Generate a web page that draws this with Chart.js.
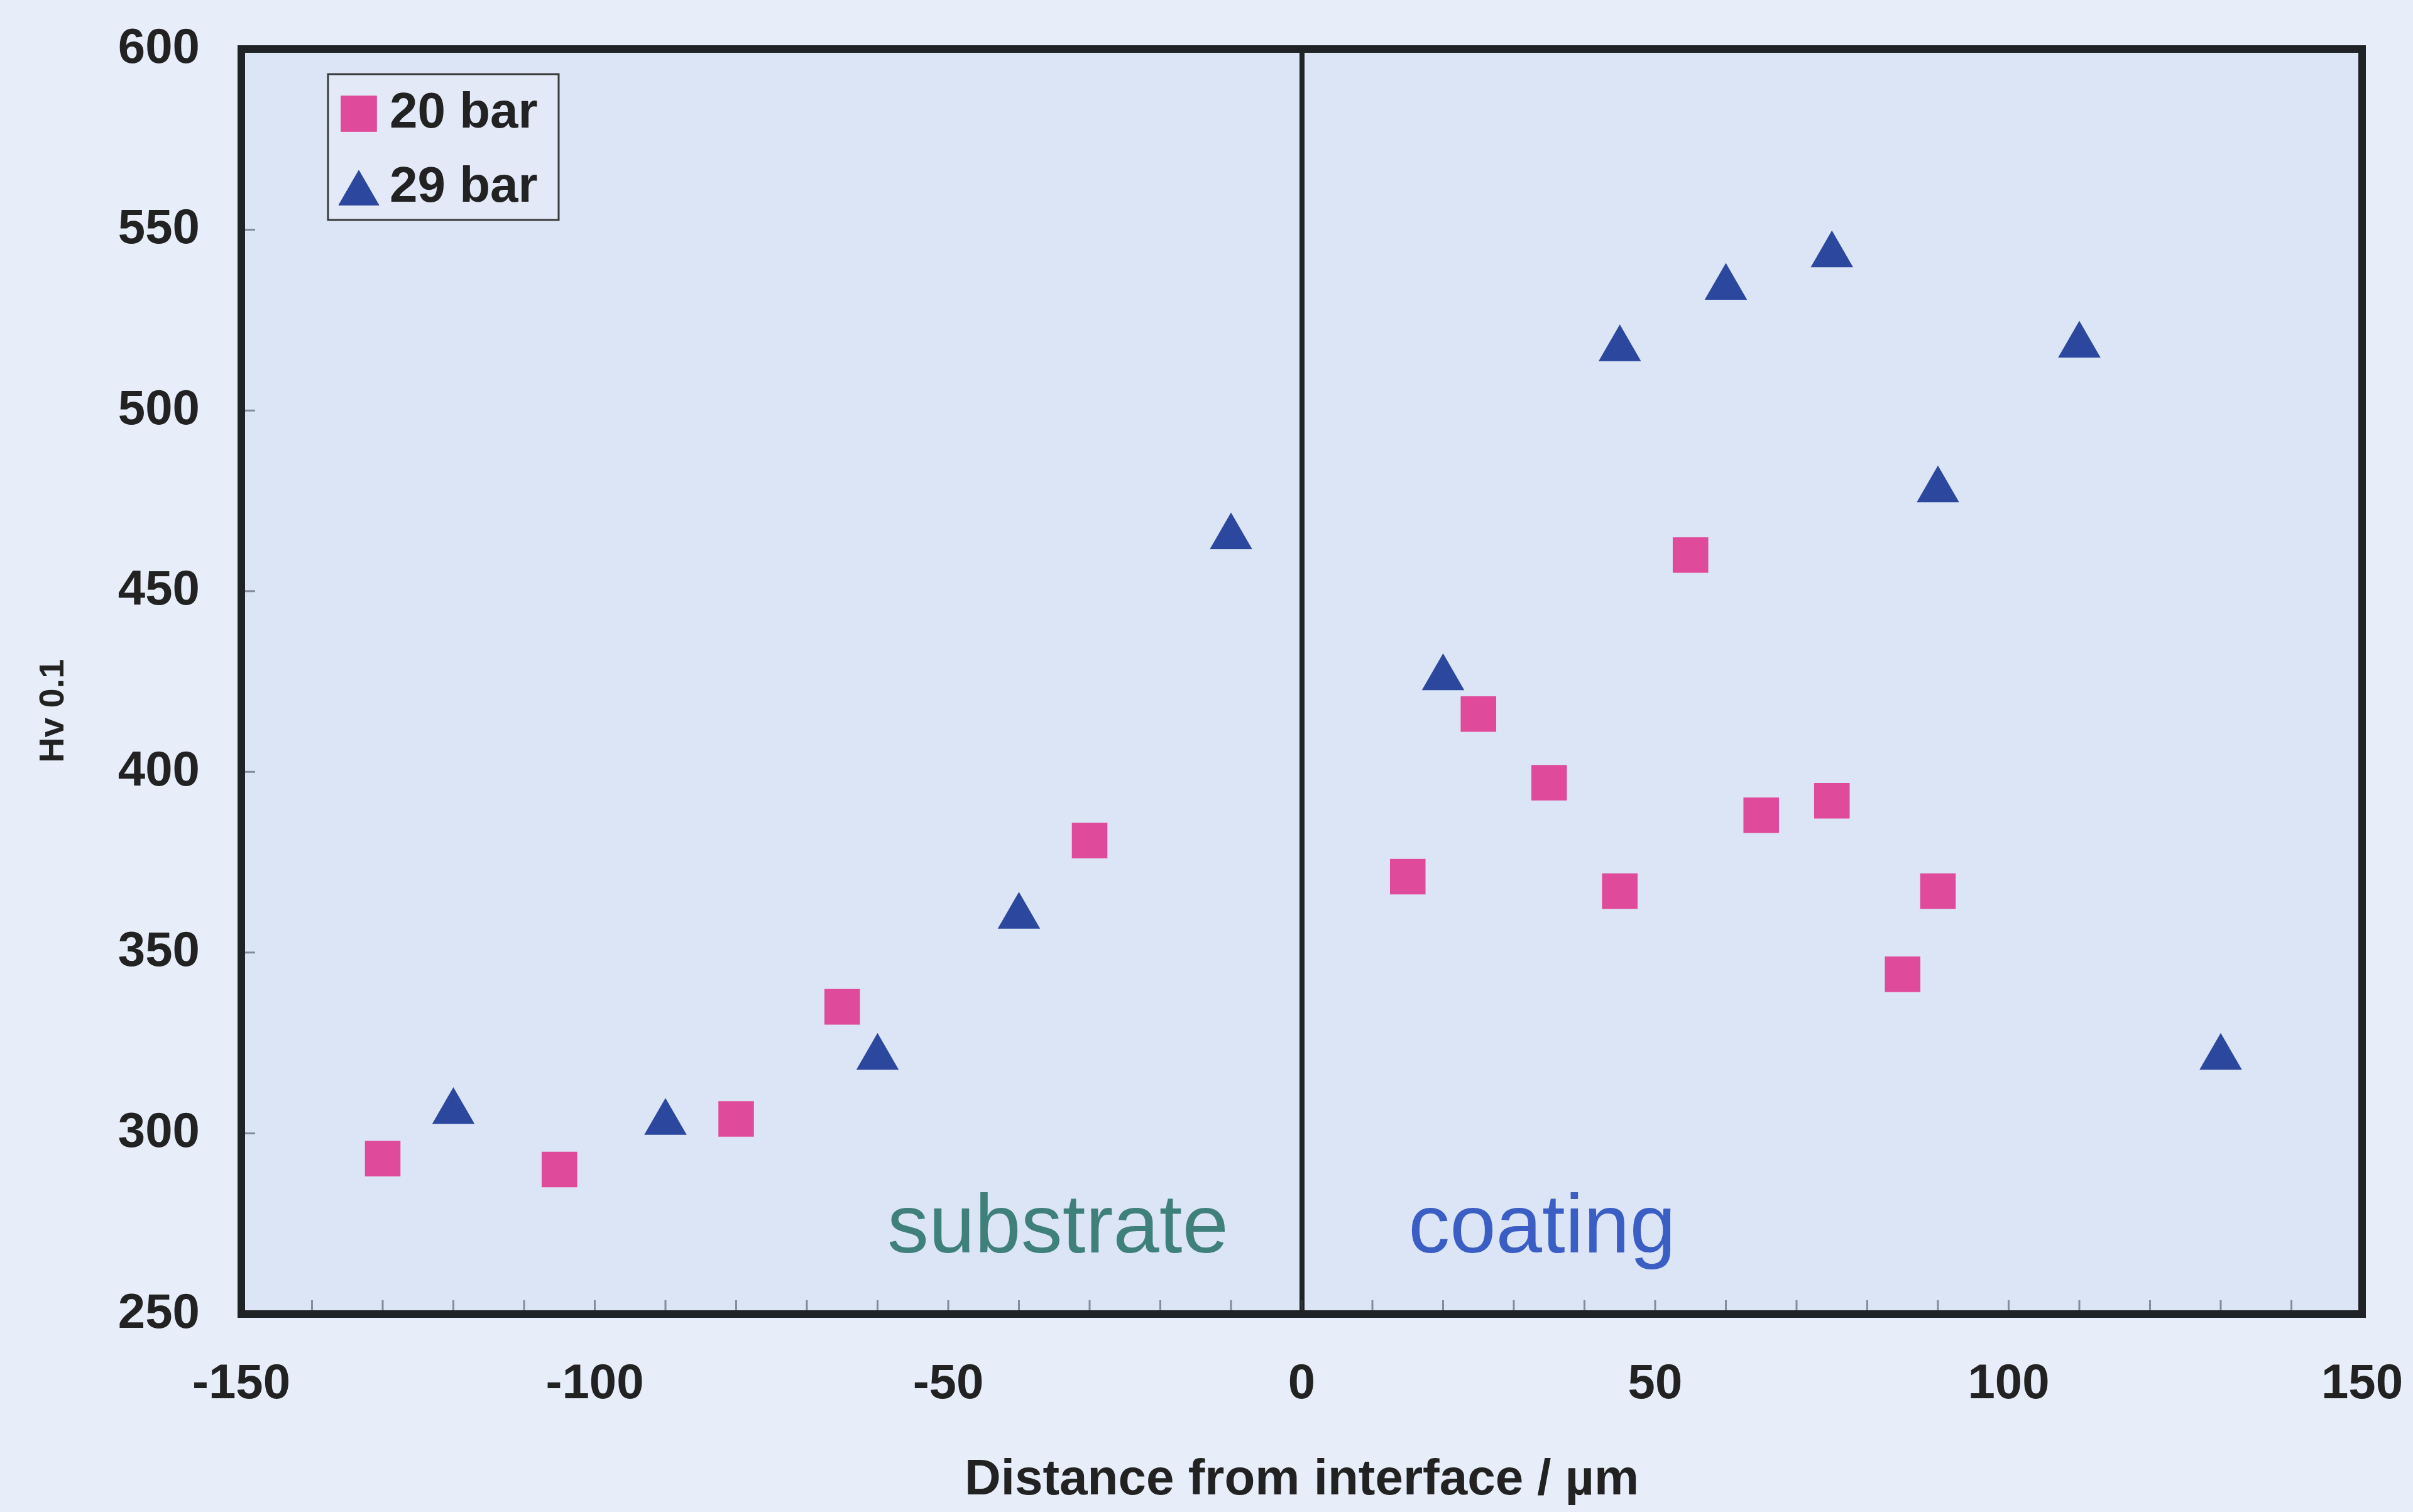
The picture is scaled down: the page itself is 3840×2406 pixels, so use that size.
<!DOCTYPE html>
<html>
<head>
<meta charset="utf-8">
<script src="https://cdn.jsdelivr.net/npm/chart.js@4.4.0/dist/chart.umd.min.js"></script>
<style>
  html, body { margin: 0; padding: 0; background: #e8eef9; overflow: hidden; }
  #wrap { width: 3840px; height: 2406px; position: relative; }
</style>
</head>
<body>
<div id="wrap"><canvas id="hardness-chart"></canvas></div>
<script>
// Microhardness across the substrate / coating interface
const seriesNames = ['20 bar', '29 bar'];

const dist20 = [-130, -105, -80, -65, -30, 15, 25, 35, 45, 55, 65, 75, 85, 90];
const hv20   = [293, 290, 304, 335, 381, 371, 416, 397, 367, 460, 388, 392, 344, 367];

const dist29 = [-120, -90, -60, -40, -10, 20, 45, 60, 75, 90, 110, 130];
const hv29   = [306, 303, 321, 360, 465, 426, 517, 534, 543, 478, 518, 321];

const xTicks = [-150, -100, -50, 0, 50, 100, 150];
const yTicks = [250, 300, 350, 400, 450, 500, 550, 600];

const regionLabels = ['substrate', 'coating'];

const FONT = '"Liberation Sans", Arial, Helvetica, sans-serif';
const PINK = '#e04a9b';
const BLUE = '#2b479e';
const INK = '#1f2326';

function toPoints(xs, ys) {
  return xs.map((x, i) => ({ x: x, y: ys[i] }));
}

// stop the tick labels from pushing the plot area inwards
function noScalePadding(scale) {
  scale.paddingTop = 0;
  scale.paddingBottom = 0;
  scale.paddingLeft = 0;
  scale.paddingRight = 0;
}

// plot area fill, region labels, inside tick marks, frame and the in-plot legend
const decorations = {
  id: 'decorations',
  beforeDraw(chart) {
    const { ctx, chartArea: a } = chart;
    ctx.save();
    ctx.fillStyle = '#dce5f5';
    ctx.fillRect(a.left, a.top, a.right - a.left, a.bottom - a.top);
    ctx.restore();
  },
  beforeDatasetsDraw(chart) {
    const { ctx, chartArea: a, scales: { x, y } } = chart;
    ctx.save();
    ctx.font = '132px ' + FONT;
    ctx.textAlign = 'center';
    ctx.textBaseline = 'alphabetic';
    const baseY = y.getPixelForValue(267);
    ctx.fillStyle = '#3f807b';
    ctx.fillText(regionLabels[0], x.getPixelForValue(-34.5), baseY);
    ctx.fillStyle = '#3a5ec4';
    ctx.fillText(regionLabels[1], x.getPixelForValue(34), baseY);

    // faint inward tick marks: every 10 on x, every 50 on y
    ctx.strokeStyle = 'rgba(60, 66, 76, 0.55)';
    ctx.lineWidth = 3;
    ctx.beginPath();
    for (let v = x.min + 10; v < x.max; v += 10) {
      const px = x.getPixelForValue(v);
      ctx.moveTo(px, a.bottom);
      ctx.lineTo(px, a.bottom - 22);
    }
    yTicks.forEach(v => {
      if (v === y.min || v === y.max) return;
      const py = y.getPixelForValue(v);
      ctx.moveTo(a.left, py);
      ctx.lineTo(a.left + 22, py);
    });
    ctx.stroke();
    ctx.restore();
  },
  afterDraw(chart) {
    const { ctx, chartArea: a } = chart;
    ctx.save();
    // frame
    ctx.strokeStyle = INK;
    ctx.lineWidth = 12;
    ctx.strokeRect(a.left, a.top, a.right - a.left, a.bottom - a.top);

    // legend box
    const bx = a.left + 138, by = a.top + 40, bw = 367, bh = 232;
    ctx.fillStyle = '#e3e9f7';
    ctx.fillRect(bx, by, bw, bh);
    ctx.strokeStyle = '#3a3a3a';
    ctx.lineWidth = 3;
    ctx.strokeRect(bx, by, bw, bh);

    const rows = [
      { style: 'rect', color: PINK, r: 40, cy: by + 63, ty: by + 63 },
      { style: 'triangle', color: BLUE, r: 37, cy: by + 190, ty: by + 181 }
    ];
    rows.forEach((row, i) => {
      ctx.fillStyle = row.color;
      ctx.strokeStyle = row.color;
      ctx.lineWidth = 1;
      Chart.helpers.drawPoint(ctx, { pointStyle: row.style, radius: row.r, rotation: 0, borderWidth: 1 }, bx + 49, row.cy);
      ctx.fillStyle = '#222222';
      ctx.font = 'bold 80px ' + FONT;
      ctx.textAlign = 'left';
      ctx.textBaseline = 'middle';
      ctx.fillText(seriesNames[i], bx + 98, row.ty);
    });
    ctx.restore();
  }
};

const config = {
  type: 'scatter',
  data: {
    datasets: [
      {
        label: seriesNames[0],
        data: toPoints(dist20, hv20),
        pointStyle: 'rect',
        pointRadius: 40,
        pointHoverRadius: 40,
        backgroundColor: PINK,
        borderColor: PINK,
        borderWidth: 0
      },
      {
        label: seriesNames[1],
        data: toPoints(dist29, hv29),
        pointStyle: 'triangle',
        pointRadius: 39,
        pointHoverRadius: 39,
        backgroundColor: BLUE,
        borderColor: BLUE,
        borderWidth: 0
      }
    ]
  },
  options: {
    responsive: true,
    maintainAspectRatio: false,
    animation: false,
    events: [],
    layout: { padding: { top: 78, right: 81, left: 0, bottom: 0 } },
    plugins: {
      legend: { display: false },
      tooltip: { enabled: false },
      title: { display: false }
    },
    scales: {
      x: {
        type: 'linear',
        min: -150,
        max: 150,
        afterFit(scale) { scale.height = 315; noScalePadding(scale); },
        afterBuildTicks(scale) { scale.ticks = xTicks.map(v => ({ value: v })); },
        border: { display: false },
        grid: {
          drawTicks: false,
          lineWidth: 8,
          color: ctx => (ctx.tick && ctx.tick.value === 0) ? INK : 'rgba(0,0,0,0)'
        },
        ticks: {
          padding: 66,
          color: '#222222',
          maxRotation: 0,
          font: { family: FONT, size: 78, weight: 'bold' }
        },
        title: {
          display: true,
          text: 'Distance from interface / µm',
          color: '#222222',
          padding: { top: 0, bottom: 10 },
          font: { family: FONT, size: 80, weight: 'bold', lineHeight: 1 }
        }
      },
      y: {
        type: 'linear',
        min: 250,
        max: 600,
        afterFit(scale) { scale.width = 384; noScalePadding(scale); },
        afterBuildTicks(scale) { scale.ticks = yTicks.map(v => ({ value: v })); },
        border: { display: false },
        grid: { display: false, drawTicks: false },
        ticks: {
          padding: 66,
          color: '#222222',
          font: { family: FONT, size: 78, weight: 'bold' }
        },
        title: {
          display: true,
          // trailing spaces nudge the centred title a little below the middle, as in the original
          text: 'Hv 0.1      ',
          color: '#222222',
          padding: { top: 58, bottom: 0 },
          font: { family: FONT, size: 56, weight: 'bold', lineHeight: 1 }
        }
      }
    }
  },
  plugins: [decorations]
};

document.addEventListener('DOMContentLoaded', function () {
  const ctx = document.getElementById('hardness-chart');
  if (ctx) {
    new Chart(ctx, config);
  }
});
</script>
</body>
</html>
